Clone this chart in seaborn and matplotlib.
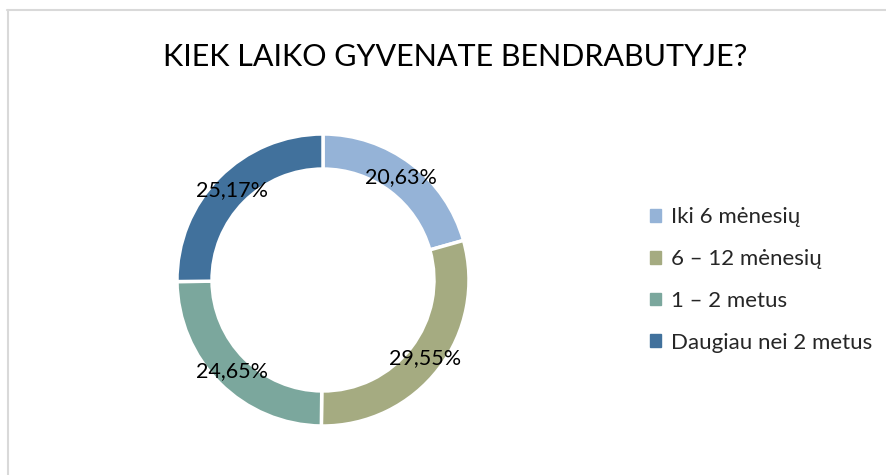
import numpy as np
import matplotlib
matplotlib.use("Agg")
import matplotlib.pyplot as plt
import seaborn as sns
from matplotlib.lines import Line2D

# =====================================
# Data
# =====================================
categories = ["Iki 6 mėnesių", "6 – 12 mėnesių", "1 – 2 metus", "Daugiau nei 2 metus"]
shares = [20.63, 29.55, 24.65, 25.17]
colors = ["#95B3D7", "#A5AB81", "#7BA79D", "#41719C"]
title = "KIEK LAIKO GYVENATE BENDRABUTYJE?"

# =====================================
# Style
# =====================================
sns.set_theme(style="white")
plt.rcParams["font.family"] = ["Lato", "DejaVu Sans"]

fig = plt.figure(figsize=(8.86, 4.75), dpi=100)
fig.patch.set_facecolor("white")

# chart border (only top and left visible in the crop)
fig.add_artist(Line2D([7 / 886, 1.0], [1 - 10 / 475, 1 - 10 / 475],
                      transform=fig.transFigure, color="#D9D9D9", lw=1.5))
fig.add_artist(Line2D([7.5 / 886, 7.5 / 886], [0, 1 - 10 / 475],
                      transform=fig.transFigure, color="#D9D9D9", lw=1.5))

# donut axes: center (323, 280), outer radius 146 px
cx, cy, r = 323, 280, 146
ax = fig.add_axes([(cx - r) / 886, 1 - (cy + r) / 475, 2 * r / 886, 2 * r / 475])

wedges, texts, autotexts = ax.pie(
    shares,
    colors=colors,
    startangle=90,
    counterclock=False,
    radius=1.0,
    autopct=lambda p: f"{p:.2f}%".replace(".", ","),
    pctdistance=0.88,
    wedgeprops=dict(width=0.24, edgecolor="white", linewidth=2.5),
    textprops=dict(fontsize=15.5, color="black"),
)
ax.set_aspect("equal")
ax.set_xlim(-1, 1)
ax.set_ylim(-1, 1)

fig.text(455 / 886, 1 - 57 / 475, title, ha="center", va="center",
         fontsize=22, color="black")

handles = [plt.Rectangle((0, 0), 1, 1, color=c) for c in colors]
fig.legend(handles, categories, loc="center left",
           bbox_to_anchor=(630 / 886, 1 - 280 / 475), frameon=False,
           fontsize=16, handlelength=0.5, handleheight=0.5,
           handletextpad=0.45, labelspacing=0.98)

fig.savefig("out.png", dpi=100, facecolor="white")
